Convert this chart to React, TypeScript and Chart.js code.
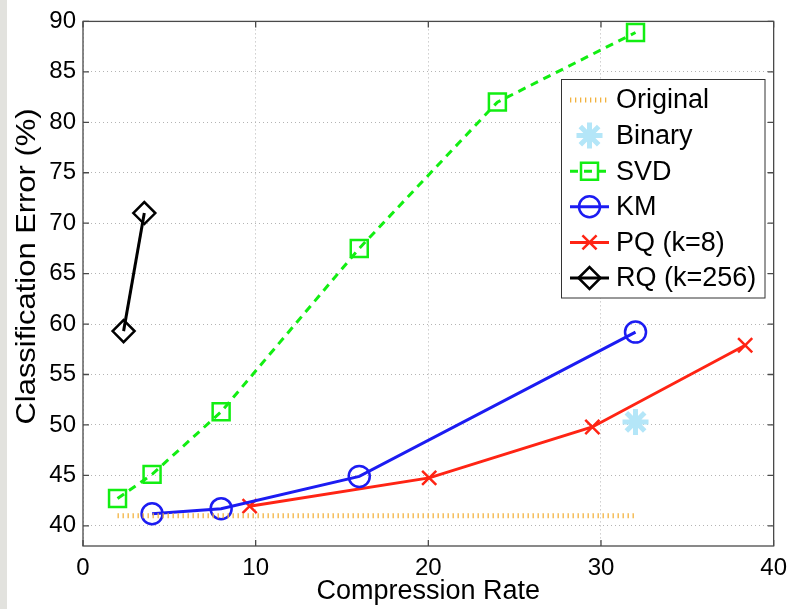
import React, { useEffect, useRef } from 'react';
import { Chart, registerables } from 'chart.js';

Chart.register(...registerables);

const X_TICKS = [0, 10, 20, 30, 40];
const Y_TICKS = [40, 45, 50, 55, 60, 65, 70, 75, 80, 85, 90];
const X_TITLE = 'Compression Rate';
const Y_TITLE = 'Classification Error (%)';

const SERIES_NAMES = ['Original', 'Binary', 'SVD', 'KM', 'PQ (k=8)', 'RQ (k=256)'];

const ORIGINAL_X = [2, 32];
const ORIGINAL_Y = [41.0, 41.0];
const BINARY_X = [32];
const BINARY_Y = [50.3];
const SVD_X = [2, 4, 8, 16, 24, 32];
const SVD_Y = [42.7, 45.1, 51.3, 67.5, 82.0, 88.9];
const KM_X = [4, 8, 16, 32];
const KM_Y = [41.2, 41.7, 44.9, 59.2];
const PQ_X = [9.65, 20.05, 29.5, 38.35];
const PQ_Y = [41.95, 44.75, 49.8, 57.9];
const RQ_X = [2.35, 3.55];
const RQ_Y = [59.3, 71.0];

const FONT = "'Liberation Sans', Arial, Helvetica, sans-serif";

const zip = (xs: number[], ys: number[]) => xs.map((x, i) => ({ x, y: ys[i] }));

function drawMarker(ctx: CanvasRenderingContext2D, style: string, x: number, y: number, r: number) {
  ctx.beginPath();
  const q = Math.PI / 4;
  if (style === 'circle') {
    ctx.arc(x, y, r, 0, Math.PI * 2);
  } else if (style === 'rect') {
    const s = Math.SQRT1_2 * r;
    ctx.rect(x - s, y - s, 2 * s, 2 * s);
  } else if (style === 'rectRot') {
    ctx.moveTo(x - r, y);
    ctx.lineTo(x, y - r);
    ctx.lineTo(x + r, y);
    ctx.lineTo(x, y + r);
    ctx.closePath();
  } else if (style === 'crossRot') {
    const o = Math.cos(q) * r;
    ctx.moveTo(x - o, y - o);
    ctx.lineTo(x + o, y + o);
    ctx.moveTo(x + o, y - o);
    ctx.lineTo(x - o, y + o);
  } else if (style === 'star') {
    for (let k = 0; k < 4; k++) {
      const a = k * q;
      const dx = Math.cos(a) * r;
      const dy = Math.sin(a) * r;
      ctx.moveTo(x - dx, y - dy);
      ctx.lineTo(x + dx, y + dy);
    }
  }
  ctx.stroke();
}

const matlabPlugin = {
  id: 'matlabBox',
  afterDatasetsDraw(chart: any) {
    const { ctx, chartArea: a, scales } = chart;
    ctx.save();
    ctx.strokeStyle = '#4a4a4a';
    ctx.lineWidth = 1.3;
    ctx.setLineDash([]);
    ctx.strokeRect(a.left, a.top, a.right - a.left, a.bottom - a.top);
    const tl = 6;
    ctx.beginPath();
    X_TICKS.forEach((v) => {
      const px = scales.x.getPixelForValue(v);
      ctx.moveTo(px, a.bottom);
      ctx.lineTo(px, a.bottom - tl);
      ctx.moveTo(px, a.top);
      ctx.lineTo(px, a.top + tl);
    });
    Y_TICKS.forEach((v) => {
      const py = scales.y.getPixelForValue(v);
      ctx.moveTo(a.left, py);
      ctx.lineTo(a.left + tl, py);
      ctx.moveTo(a.right, py);
      ctx.lineTo(a.right - tl, py);
    });
    ctx.stroke();
    ctx.restore();
  },
  afterDraw(chart: any) {
    const { ctx } = chart;
    // y-axis title (stretched along its length like the reference)
    ctx.save();
    ctx.font = `28px ${FONT}`;
    ctx.fillStyle = '#000';
    ctx.textAlign = 'center';
    ctx.textBaseline = 'middle';
    const w = ctx.measureText(Y_TITLE).width;
    ctx.translate(27, 266.5);
    ctx.rotate(-Math.PI / 2);
    ctx.scale(316 / w, 1);
    ctx.fillText(Y_TITLE, 0, 0);
    ctx.restore();

    // legend
    const bx = 561.5, by = 79.5, bw = 203.5, bh = 218.5;
    ctx.save();
    ctx.fillStyle = '#ffffff';
    ctx.fillRect(bx, by, bw, bh);
    ctx.strokeStyle = '#333333';
    ctx.lineWidth = 1;
    ctx.strokeRect(bx, by, bw, bh);
    const rowH = 35.6;
    chart.data.datasets.forEach((ds: any, i: number) => {
      const cy = 100 + i * rowH;
      const x0 = 570, x1 = 609, cx = (x0 + x1) / 2;
      ctx.save();
      if (ds.showLine !== false) {
        ctx.strokeStyle = ds.borderColor;
        ctx.lineWidth = ds.borderWidth;
        ctx.setLineDash(ds.borderDash || []);
        ctx.beginPath();
        ctx.moveTo(x0, cy);
        ctx.lineTo(x1, cy);
        ctx.stroke();
      }
      ctx.setLineDash([]);
      if (ds.pointRadius > 0) {
        ctx.strokeStyle = ds.pointBorderColor;
        ctx.lineWidth = ds.pointBorderWidth;
        drawMarker(ctx, ds.pointStyle, cx, cy, ds.pointRadius);
      }
      ctx.restore();
      ctx.fillStyle = '#000';
      ctx.font = `27px ${FONT}`;
      ctx.textBaseline = 'middle';
      ctx.textAlign = 'left';
      ctx.fillText(ds.label, 616, cy + 1);
    });
    ctx.restore();
  },
};

export default function App() {
  const ref = useRef<HTMLCanvasElement | null>(null);

  useEffect(() => {
    if (!ref.current) return;
    const clear = 'rgba(0,0,0,0)';
    const chart = new Chart(ref.current, {
      type: 'line',
      data: {
        datasets: [
          {
            label: SERIES_NAMES[0],
            data: zip(ORIGINAL_X, ORIGINAL_Y),
            borderColor: '#f2b23e',
            borderWidth: 5,
            borderDash: [1.3, 3.7],
            pointRadius: 0,
            pointStyle: 'circle',
          },
          {
            label: SERIES_NAMES[1],
            data: zip(BINARY_X, BINARY_Y),
            showLine: false,
            borderColor: '#b4e6f8',
            pointStyle: 'star',
            pointRadius: 13,
            pointBorderWidth: 5,
            pointBorderColor: '#b4e6f8',
            pointBackgroundColor: clear,
          },
          {
            label: SERIES_NAMES[2],
            data: zip(SVD_X, SVD_Y),
            borderColor: '#12ee12',
            borderWidth: 3,
            borderDash: [8, 6],
            pointStyle: 'rect',
            pointRadius: 12,
            pointBorderWidth: 2.5,
            pointBorderColor: '#12ee12',
            pointBackgroundColor: clear,
          },
          {
            label: SERIES_NAMES[3],
            data: zip(KM_X, KM_Y),
            borderColor: '#1c1cf2',
            borderWidth: 3,
            pointStyle: 'circle',
            pointRadius: 10.5,
            pointBorderWidth: 2.5,
            pointBorderColor: '#1c1cf2',
            pointBackgroundColor: clear,
          },
          {
            label: SERIES_NAMES[4],
            data: zip(PQ_X, PQ_Y),
            borderColor: '#ff2414',
            borderWidth: 3,
            pointStyle: 'crossRot',
            pointRadius: 10,
            pointBorderWidth: 2.5,
            pointBorderColor: '#ff2414',
            pointBackgroundColor: clear,
          },
          {
            label: SERIES_NAMES[5],
            data: zip(RQ_X, RQ_Y),
            borderColor: '#000000',
            borderWidth: 3,
            pointStyle: 'rectRot',
            pointRadius: 11,
            pointBorderWidth: 2.5,
            pointBorderColor: '#000000',
            pointBackgroundColor: clear,
          },
        ] as any,
      },
      options: {
        responsive: false,
        animation: false,
        devicePixelRatio: 1,
        events: [],
        layout: { padding: { top: 21, right: 18, left: 0, bottom: 0 } },
        elements: { line: { tension: 0 } },
        plugins: {
          legend: { display: false },
          tooltip: { enabled: false },
        },
        scales: {
          x: {
            type: 'linear',
            min: 0,
            max: 40,
            afterBuildTicks: (axis: any) => {
              axis.ticks = X_TICKS.map((v) => ({ value: v }));
            },
            afterFit: (axis: any) => {
              axis.height = 63;
            },
            ticks: {
              color: '#000',
              padding: 8,
              maxRotation: 0,
              font: { family: FONT, size: 24 },
              callback: (v: any) => String(v),
            },
            grid: { color: '#b4b4b4', lineWidth: 1, drawTicks: false },
            border: { display: false, dash: [1, 3] },
            title: {
              display: true,
              text: X_TITLE,
              color: '#000',
              font: { family: FONT, size: 27 },
              padding: { top: 0, bottom: 1 },
            },
          },
          y: {
            type: 'linear',
            min: 38,
            max: 90,
            afterBuildTicks: (axis: any) => {
              axis.ticks = Y_TICKS.map((v) => ({ value: v }));
            },
            afterFit: (axis: any) => {
              axis.width = 83;
            },
            ticks: {
              color: '#000',
              padding: 7,
              font: { family: FONT, size: 24 },
              callback: (v: any) => String(v),
            },
            grid: { color: '#b4b4b4', lineWidth: 1, drawTicks: false },
            border: { display: false, dash: [1, 3] },
            title: { display: false, text: Y_TITLE },
          },
        },
      },
      plugins: [matlabPlugin as any],
    });
    return () => chart.destroy();
  }, []);

  return (
    <div style={{ position: 'fixed', left: 0, top: 0, width: 795, height: 609, background: '#ffffff' }}>
      <canvas ref={ref} width={795} height={609} style={{ display: 'block' }} />
      <div style={{ position: 'absolute', left: 0, top: 0, width: 7, height: 609, background: '#e2e2de' }} />
    </div>
  );
}
